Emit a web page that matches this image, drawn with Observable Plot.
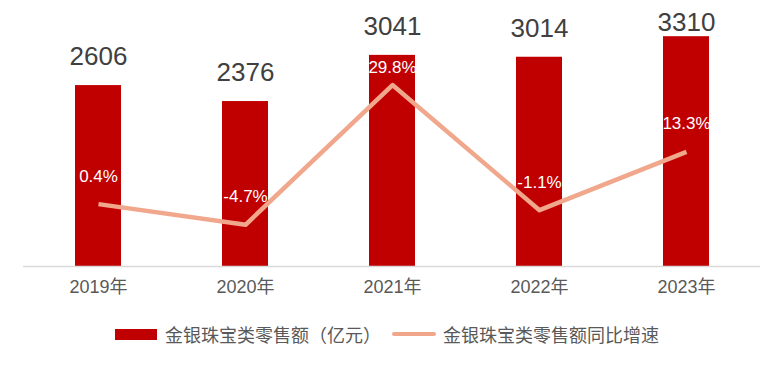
<!DOCTYPE html>
<html>
<head>
<meta charset="utf-8">
<script src="https://cdn.jsdelivr.net/npm/d3@7"></script>
<script src="https://cdn.jsdelivr.net/npm/@observablehq/plot@0.6"></script>
<style>
  body { margin: 0; background: #fff; font-family: "Liberation Sans", "Noto Sans CJK SC", sans-serif; }
  #legend { height: 44px; display: flex; align-items: center; padding-left: 115px; color: #595959; font-size: 18px; }
  .item { display: flex; align-items: center; }
  .sw-bar { width: 42px; height: 11px; background: #C00000; margin-right: 8px; }
  .sw-line { width: 44px; height: 4px; background: #F0A78C; border-radius: 2px; margin-right: 7px; margin-left: 11px; }
</style>
</head>
<body>
<div id="chart"></div>
<div id="legend">
  <div class="item"><div class="sw-bar"></div><span>金银珠宝类零售额（亿元）</span></div>
  <div class="item"><div class="sw-line"></div><span>金银珠宝类零售额同比增速</span></div>
</div>
<script>
const years = ["2019年", "2020年", "2021年", "2022年", "2023年"];
const sales = [2606, 2376, 3041, 3014, 3310];
const growth = [0.4, -4.7, 29.8, -1.1, 13.3];

const data = years.map((y, i) => ({year: y, sales: sales[i], growth: growth[i]}));

// secondary axis (growth %) mapped onto primary y domain
const y2 = d3.scaleLinear().domain([-15, 45]).range([0, 3500]);

const font = "Liberation Sans, Noto Sans CJK SC, sans-serif";
const pct = d => d.growth.toFixed(1) + "%";

const chart = Plot.plot({
  width: 783,
  height: 312,
  marginLeft: 23,
  marginRight: 23,
  marginTop: 23,
  marginBottom: 46,
  style: {fontFamily: font, background: "#fff", overflow: "visible"},
  x: {domain: years, paddingInner: 0.69, paddingOuter: 0.345, label: null},
  y: {domain: [0, 3500], axis: null},
  marks: [
    Plot.barY(data, {x: "year", y: "sales", fill: "#C00000"}),
    Plot.ruleY([0], {stroke: "#D9D9D9", strokeWidth: 1.5}),
    Plot.axisX({tickSize: 0, tickPadding: 14, fontSize: 18, fill: "#595959", color: "#595959"}),
    Plot.text(data.filter(d => d.year !== "2023年"), {x: "year", y: "sales", text: d => String(d.sales), dy: -29, fontSize: 26, fill: "#404040"}),
    Plot.text(data.filter(d => d.year === "2023年"), {x: "year", y: "sales", text: d => String(d.sales), dy: -14, fontSize: 26, fill: "#404040"}),
    Plot.line(data, {x: "year", y: d => y2(d.growth), stroke: "#F0A78C", strokeWidth: 4.5, strokeLinecap: "butt"}),
    Plot.text(data.filter(d => d.year !== "2021年"), {x: "year", y: d => y2(d.growth), text: pct, dy: -28, fontSize: 17, fill: "#FFFFFF"}),
    Plot.text(data.filter(d => d.year === "2021年"), {x: "year", y: d => y2(d.growth), text: pct, dy: -18, fontSize: 17, fill: "#FFFFFF"})
  ]
});
document.getElementById("chart").appendChild(chart);
</script>
</body>
</html>
